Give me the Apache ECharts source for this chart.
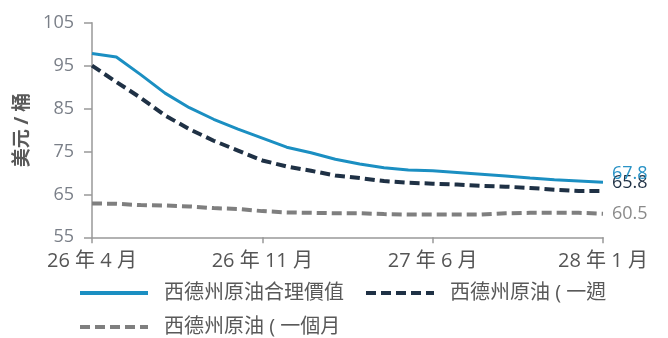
<!DOCTYPE html>
<html>
<head>
<meta charset="utf-8">
<script src="https://cdn.jsdelivr.net/npm/echarts@6/dist/echarts.min.js"></script>
<style>
  html, body { margin: 0; padding: 0; background: #fff; }
  #chart { width: 668px; height: 338px; }
</style>
</head>
<body>
<div id="chart"></div>
<script>
// Monthly points, April 2026 to January 2028
const months = [
  '26 年 4 月', '26 年 5 月', '26 年 6 月', '26 年 7 月', '26 年 8 月', '26 年 9 月',
  '26 年 10 月', '26 年 11 月', '26 年 12 月', '27 年 1 月', '27 年 2 月', '27 年 3 月',
  '27 年 4 月', '27 年 5 月', '27 年 6 月', '27 年 7 月', '27 年 8 月', '27 年 9 月',
  '27 年 10 月', '27 年 11 月', '27 年 12 月', '28 年 1 月'
];

const seriesNames = ['西德州原油合理價值', '西德州原油 ( 一週', '西德州原油 ( 一個月'];

// WTI fair value (USD / bbl)
const fairValue = [97.8, 97.0, 92.9, 88.6, 85.2, 82.5, 80.2, 78.1, 76.0, 74.7, 73.2,
  72.1, 71.2, 70.7, 70.5, 70.1, 69.7, 69.3, 68.8, 68.4, 68.1, 67.8];

// WTI futures curve, one week ago
const oneWeek = [95.0, 91.2, 87.5, 83.4, 80.2, 77.5, 75.2, 72.9, 71.5, 70.5, 69.4,
  68.8, 68.1, 67.7, 67.5, 67.3, 67.0, 66.8, 66.5, 66.1, 65.8, 65.8];

// WTI futures curve, one month ago
const oneMonth = [62.9, 62.8, 62.5, 62.4, 62.2, 61.8, 61.6, 61.1, 60.8, 60.7, 60.6,
  60.6, 60.4, 60.3, 60.3, 60.3, 60.3, 60.6, 60.7, 60.7, 60.7, 60.5];

const yMin = 55, yMax = 105, yStep = 10;

const FONT = '"Open Sans", "Noto Sans CJK TC", sans-serif';

const chart = echarts.init(document.getElementById('chart'), null, { renderer: 'canvas' });

function endLabel(color, dy) {
  return {
    show: true,
    distance: 9,
    offset: [0, dy],
    color: color,
    fontSize: 18,
    fontFamily: FONT,
    formatter: p => Number(p.value).toFixed(1)
  };
}

// Shared legend look; two rows laid out as separate legend blocks
function legendRow(top, names) {
  return {
    left: 78,
    top: top,
    itemWidth: 68,
    itemHeight: 4,
    itemGap: 20,
    padding: 0,
    itemStyle: { opacity: 0 },
    lineStyle: { width: 4 },
    textStyle: {
      fontSize: 20,
      color: '#595959',
      fontFamily: FONT,
      padding: [0, 0, 0, 11]
    },
    data: names
  };
}

chart.setOption({
  animation: false,
  grid: { left: 92, right: 65, top: 22.7, bottom: 100.7 },
  legend: [
    legendRow(283, seriesNames.slice(0, 2)),
    legendRow(317, seriesNames.slice(2))
  ],
  xAxis: {
    type: 'category',
    data: months,
    boundaryGap: false,
    axisLine: { lineStyle: { color: '#999', width: 1.5 } },
    axisTick: { show: true, interval: 6, length: 6, lineStyle: { color: '#999', width: 1.5 } },
    axisLabel: {
      interval: 6,
      margin: 14,
      fontSize: 20,
      color: '#555',
      fontFamily: FONT
    },
    splitLine: { show: false }
  },
  yAxis: {
    type: 'value',
    min: yMin,
    max: yMax,
    interval: yStep,
    name: '美元 / 桶',
    nameLocation: 'middle',
    nameRotate: 90,
    nameGap: 50,
    nameTextStyle: { fontSize: 19, color: '#595959', fontWeight: 'bold', fontFamily: FONT },
    axisLine: { show: true, lineStyle: { color: '#999', width: 1.5 } },
    axisTick: { show: true, length: 8, lineStyle: { color: '#999', width: 1.5 } },
    axisLabel: {
      margin: 18,
      fontSize: 18,
      color: '#7a7f88',
      fontFamily: FONT
    },
    splitLine: { show: false }
  },
  series: [
    {
      name: seriesNames[0],
      type: 'line',
      data: fairValue,
      symbol: 'none',
      z: 3,
      lineStyle: { color: '#1b8fc2', width: 3 },
      itemStyle: { color: '#1b8fc2' },
      endLabel: endLabel('#2a93c6', -8)
    },
    {
      name: seriesNames[1],
      type: 'line',
      data: oneWeek,
      symbol: 'none',
      z: 2,
      lineStyle: { color: '#1f3145', width: 4, type: [10, 5] },
      itemStyle: { color: '#1f3145' },
      endLabel: endLabel('#1f3145', -8)
    },
    {
      name: seriesNames[2],
      type: 'line',
      data: oneMonth,
      symbol: 'none',
      z: 1,
      lineStyle: { color: '#7f7f7f', width: 4, type: [10, 5] },
      itemStyle: { color: '#7f7f7f' },
      endLabel: endLabel('#8a8a8a', 0)
    }
  ]
});
</script>
</body>
</html>
